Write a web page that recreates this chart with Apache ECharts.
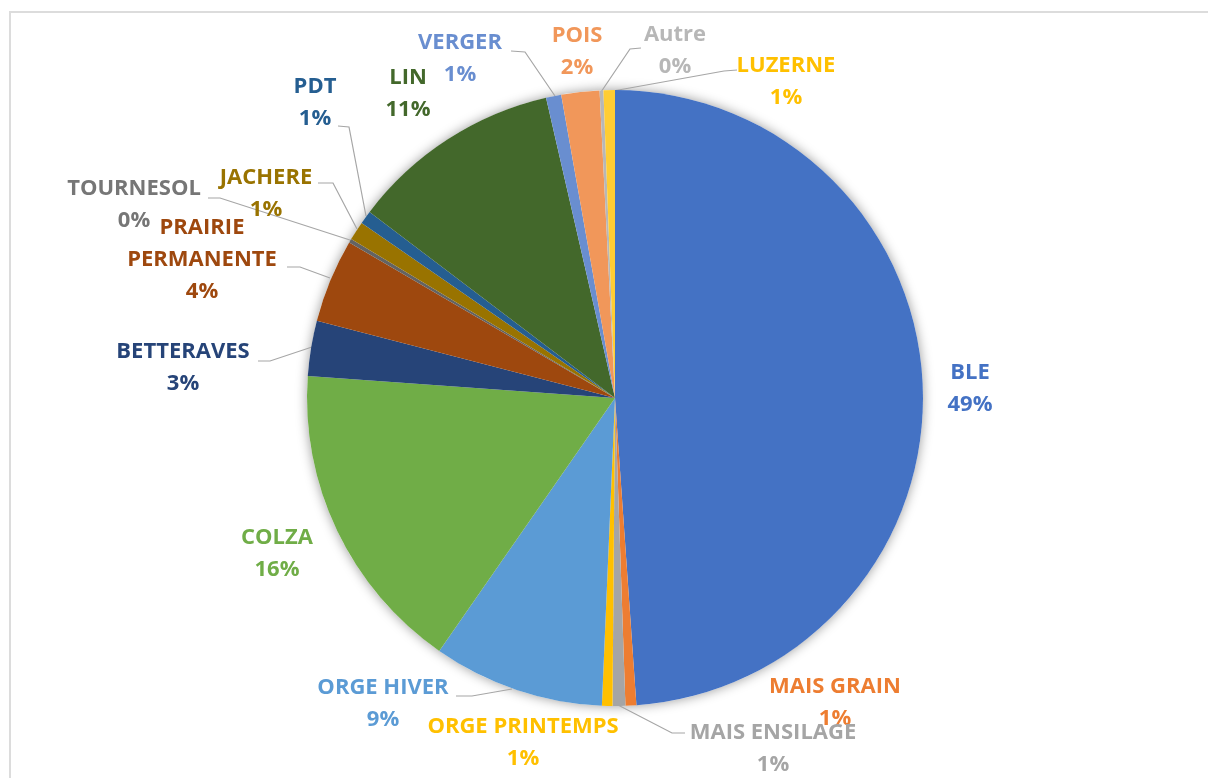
<!DOCTYPE html>
<html>
<head>
<meta charset="utf-8">
<script src="https://cdn.jsdelivr.net/npm/echarts@6/dist/echarts.min.js"></script>
<style>
  html, body { margin: 0; padding: 0; background: #ffffff; }
  #frame { position: absolute; left: 9px; top: 11px; right: 0; bottom: 0;
           border-top: 2px solid #dcdcdc; border-left: 2px solid #dcdcdc; }
  #chart { position: absolute; left: 0; top: 0; width: 1208px; height: 778px; }
</style>
</head>
<body>
<div id="frame"></div>
<div id="chart"></div>
<script>
// ---- data ----
const categories = ['BLE', 'MAIS GRAIN', 'MAIS ENSILAGE', 'ORGE PRINTEMPS', 'ORGE HIVER', 'COLZA',
  'BETTERAVES', 'PRAIRIE PERMANENTE', 'TOURNESOL', 'JACHERE', 'PDT', 'LIN', 'VERGER', 'POIS', 'Autre', 'LUZERNE'];
const values = [48.97, 0.57, 0.67, 0.55, 9.0, 16.5, 2.9, 4.4, 0.2, 1.0, 0.7, 11.1, 0.8, 2.0, 0.2, 0.6];

// ---- styles / layout ----
const colors = ['#4472C4', '#ED7D31', '#A5A5A5', '#FFC000', '#5B9BD5', '#70AD47', '#264478', '#9E480E',
  '#636363', '#997300', '#255E91', '#43682B', '#698ED0', '#F1975A', '#B7B7B7', '#FFCD33'];
const labelColors = ['#4472C4', '#ED7D31', '#A5A5A5', '#FFC000', '#5B9BD5', '#70AD47', '#264478', '#9E480E',
  '#767676', '#997300', '#255E91', '#43682B', '#698ED0', '#F1975A', '#B7B7B7', '#FFC000'];
const labelPos = [
  [970, 389], [835, 703], [773, 749], [523, 743], [383, 704], [277, 554],
  [183, 368], [202, 260], [134, 205], [266, 194], [315, 103], [408, 94],
  [460, 59], [577, 52], [675, 51], [786, 82]
];
const linePts = {
  2: [[618, 705], [672, 733], [685, 733]],
  4: [[512, 689], [472, 696], [456, 696]],
  6: [[312, 347], [270, 361], [258, 361]],
  7: [[330, 278], [300, 267], [287, 267]],
  8: [[353, 241], [220, 198], [208, 198]],
  9: [[357, 229], [333, 183], [318, 183]],
  10: [[366, 216], [349, 127], [338, 126]],
  12: [[555, 96], [525, 52], [511, 51]],
  14: [[601, 92], [630, 49], [641, 48]],
  15: [[613, 91], [724, 71], [737, 70]]
};

const total = values.reduce((a, b) => a + b, 0);
const pieData = categories.map((name, i) => ({
  name: name,
  value: values[i],
  itemStyle: { color: colors[i] },
  label: { color: labelColors[i] },
  labelLine: { show: !!linePts[i] }
}));

const chart = echarts.init(document.getElementById('chart'), null, { renderer: 'canvas' });
chart.setOption({
  animation: false,
  backgroundColor: 'transparent',
  series: [
    {
      type: 'pie',
      silent: true,
      z: 1,
      center: [615, 398],
      radius: 308,
      data: [{ value: total, itemStyle: { color: '#ffffff', shadowBlur: 12, shadowColor: 'rgba(0,0,0,0.4)' } }],
      label: { show: false },
      labelLine: { show: false }
    },
    {
      type: 'pie',
      z: 2,
      center: [615, 398],
      radius: 308,
      startAngle: 90,
      clockwise: true,
      avoidLabelOverlap: false,
      itemStyle: { borderWidth: 0 },
      data: pieData,
      label: {
        show: true,
        position: 'outside',
        fontFamily: 'Open Sans',
        fontWeight: 'bold',
        fontSize: 22,
        lineHeight: 32,
        align: 'center',
        formatter: function (p) {
          const pct = Math.round(p.value / total * 100);
          return p.name.replace('PRAIRIE ', 'PRAIRIE\n') + '\n' + pct + '%';
        }
      },
      labelLine: {
        show: true,
        lineStyle: { color: '#A6A6A6', width: 1.2 }
      },
      labelLayout: function (params) {
        const i = params.dataIndex;
        const p = labelPos[i];
        const out = { x: p[0], y: p[1], align: 'center', verticalAlign: 'middle' };
        if (linePts[i]) out.labelLinePoints = linePts[i];
        return out;
      }
    }
  ]
});
</script>
</body>
</html>
